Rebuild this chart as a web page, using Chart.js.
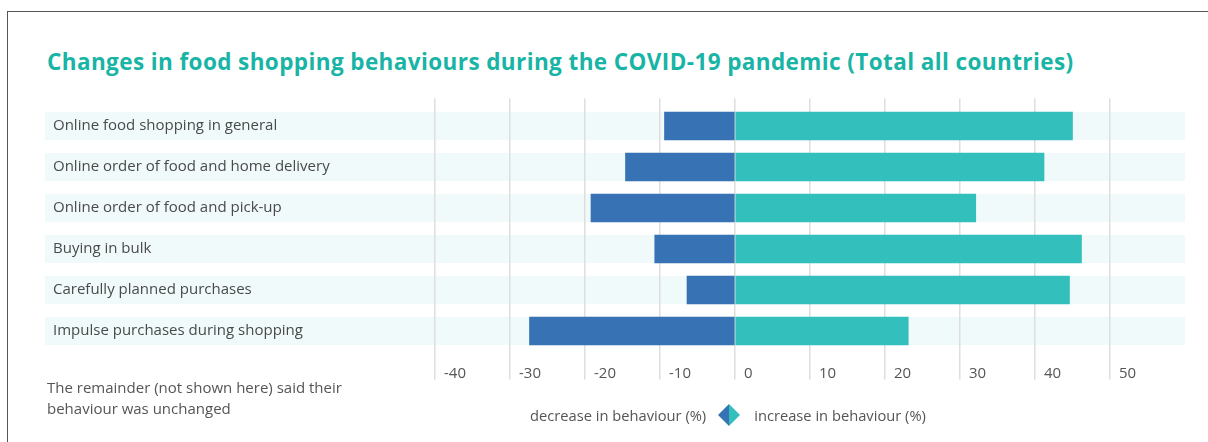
<!DOCTYPE html>
<html>
<head>
<meta charset="utf-8">
<script src="https://cdn.jsdelivr.net/npm/chart.js@4.4.1/dist/chart.umd.min.js"></script>
<style>
  html, body { margin: 0; padding: 0; background: #ffffff; }
  body { width: 1208px; height: 442px; position: relative; overflow: hidden; font-family: "Open Sans", sans-serif; }
  #frame { position: absolute; left: 7px; top: 11px; width: 1300px; height: 500px; border-top: 1px solid #555; border-left: 1px solid #555; }
  #title { position: absolute; left: 47px; top: 48px; line-height: 28px; font-size: 22.5px; font-weight: 700; color: #18b4a5; white-space: nowrap; letter-spacing: 0.4px; }
  #note { position: absolute; left: 47px; top: 377px; font-size: 15px; line-height: 21px; color: #555; }
  #legend { position: absolute; left: 530px; top: 404px; height: 22px; display: flex; align-items: center; font-size: 14.7px; color: #555; white-space: nowrap; }
  #diamond { flex: 0 0 22px; width: 22px; height: 22px; margin: 0 14px 0 12px; display: block; }
  #c { position: absolute; left: 0; top: 0; }
</style>
</head>
<body>
<div id="frame"></div>
<div id="title">Changes in food shopping behaviours during the COVID-19 pandemic (Total all countries)</div>
<canvas id="c" width="1208" height="442"></canvas>
<div id="note">The remainder (not shown here) said their<br>behaviour was unchanged</div>
<div id="legend"><span>decrease in behaviour (%)</span><svg id="diamond" viewBox="0 0 22 22"><polygon points="11,0 11,22 0,11" fill="#3672b4"/><polygon points="11,0 22,11 11,22" fill="#33bfbc"/></svg><span>increase in behaviour (%)</span></div>
<script>
const categories = [
  "Online food shopping in general",
  "Online order of food and home delivery",
  "Online order of food and pick-up",
  "Buying in bulk",
  "Carefully planned purchases",
  "Impulse purchases during shopping"
];
const decreaseValues = [-9.4, -14.6, -19.2, -10.7, -6.4, -27.4];
const increaseValues = [45.0, 41.2, 32.1, 46.2, 44.6, 23.1];
const axisMin = -40;
const axisMax = 60;
const tickStep = 10;

const GRID = '#dedede';
const BAND = '#f0fafa';

const bandPlugin = {
  id: 'bands',
  beforeDraw(chart) {
    const y = chart.scales.y, x = chart.scales.x;
    const ctx = chart.ctx;
    ctx.save();
    ctx.fillStyle = BAND;
    const left = 45;
    const right = x.getPixelForValue(axisMax);
    categories.forEach((c, i) => {
      const cy = y.getPixelForValue(i);
      ctx.fillRect(left, cy - 14, right - left, 28);
    });
    ctx.restore();
  }
};

new Chart(document.getElementById('c'), {
  type: 'bar',
  data: {
    labels: categories,
    datasets: [
      { label: 'decrease in behaviour (%)', data: decreaseValues, backgroundColor: '#3672b4' },
      { label: 'increase in behaviour (%)', data: increaseValues, backgroundColor: '#33bfbc' }
    ]
  },
  options: {
    indexAxis: 'y',
    responsive: false,
    animation: false,
    events: [],
    layout: { padding: { left: 53, right: 23, top: 98.5, bottom: 62.5 } },
    datasets: { bar: { grouped: false, barThickness: 28 } },
    plugins: { legend: { display: false }, title: { display: false }, tooltip: { enabled: false } },
    scales: {
      x: {
        type: 'linear', position: 'bottom', min: axisMin, max: axisMax,
        border: { display: false },
        grid: {
          color: ctx => (ctx.tick && ctx.tick.value === axisMax) ? 'rgba(0,0,0,0)' : GRID,
          lineWidth: 1.5, tickLength: 28, drawTicks: true
        },
        ticks: {
          stepSize: tickStep, align: 'start', labelOffset: 9, padding: -14.5,
          color: '#555', font: { family: 'Open Sans', size: 15 },
          callback: v => v === axisMax ? '' : String(v)
        },
        afterFit: s => { s.height = 28; }
      },
      x2: {
        type: 'linear', position: 'top', min: axisMin, max: axisMax, display: true,
        border: { display: false },
        grid: {
          drawOnChartArea: false, tickLength: 7,
          color: ctx => (ctx.tick && ctx.tick.value === axisMax) ? 'rgba(0,0,0,0)' : GRID,
          lineWidth: 1.5
        },
        ticks: { display: false, stepSize: tickStep }
      },
      y: {
        type: 'category',
        border: { display: false },
        grid: { display: false },
        ticks: { crossAlign: 'far', padding: 0, color: '#4a4a4a', font: { family: 'Open Sans', size: 15 } },
        afterFit: s => { s.width = 382; }
      }
    }
  },
  plugins: [bandPlugin]
});
</script>
</body>
</html>
